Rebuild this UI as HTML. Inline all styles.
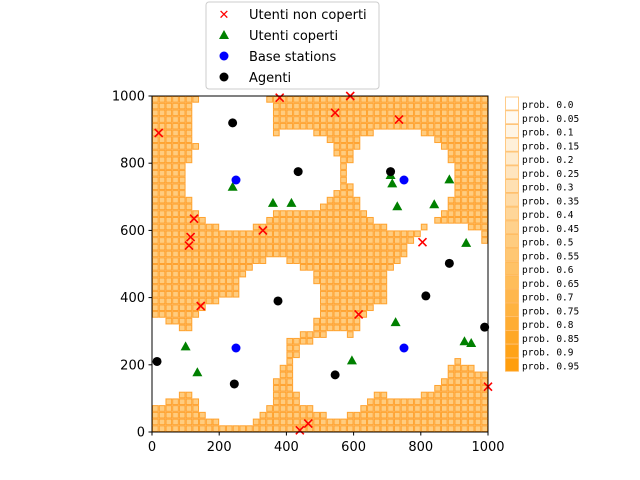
<!DOCTYPE html>
<html><head><meta charset="utf-8">
<style>
html,body{margin:0;padding:0;background:#fff;}
svg{display:block;font-family:"DejaVu Sans","Liberation Sans",sans-serif;}
</style></head>
<body>
<svg id="chart" width="640" height="480" viewBox="0 0 640 480">
<g id="cells"></g>
<g id="marks"></g>
<rect x="152" y="96" width="336" height="336" fill="none" stroke="#000" stroke-width="1"/>
<g id="axes"></g>
<g id="problegend"></g>
<g>
<rect x="206" y="2" width="173" height="87" rx="3" fill="#fff" stroke="#ccc"/>
<text x="224" y="19" fill="#f00" font-size="13" text-anchor="middle">✕</text>
<text x="249" y="19" font-size="13">Utenti non coperti</text>
<polygon points="224,30 229,39 219,39" fill="green"/>
<text x="249" y="40" font-size="13">Utenti coperti</text>
<circle cx="224" cy="56" r="4.5" fill="blue"/>
<text x="249" y="61" font-size="13">Base stations</text>
<circle cx="224" cy="77" r="4.5" fill="#000"/>
<text x="249" y="82" font-size="13">Agenti</text>
</g>
</svg>
<script>
const ticks = [0,200,400,600,800,1000];
const uncoveredX = [20,125,115,110,145,330,380,545,590,735,805,615,440,465,1000];
const uncoveredY = [890,635,580,555,375,600,995,950,1000,930,565,350,5,25,135];
const coveredX = [240,360,415,710,715,730,840,885,935,100,135,595,725,930,950];
const coveredY = [730,682,682,765,740,672,678,752,563,255,178,213,327,270,265];
const baseX = [250,750,250,750];
const baseY = [750,750,250,250];
const agentX = [240,435,710,375,815,885,990,15,245,545];
const agentY = [920,775,775,390,405,502,312,210,143,170];
const probLabels = ["0.0","0.05","0.1","0.15","0.2","0.25","0.3","0.35","0.4","0.45","0.5","0.55","0.6","0.65","0.7","0.75","0.8","0.85","0.9","0.95"];
const probAlpha = [0,0.05,0.1,0.15,0.2,0.25,0.3,0.35,0.4,0.45,0.5,0.55,0.6,0.65,0.7,0.75,0.8,0.85,0.9,0.95];

const NS="http://www.w3.org/2000/svg";
const X0=152,Y0=432,S=336/1000;
function sx(v){return X0+v*S;}
function sy(v){return Y0-v*S;}
function mk(tag,attrs,parent){const e=document.createElementNS(NS,tag);for(const k in attrs)e.setAttribute(k,attrs[k]);parent.appendChild(e);return e;}

// grid
const cells=document.getElementById('cells');
const CS=20,RB=150,RA=125;
for(let i=0;i<50;i++){for(let j=0;j<50;j++){
  const cx=i*CS+CS/2, cy=j*CS+CS/2;
  let cov=false;
  for(let k=0;k<baseX.length;k++){if(Math.hypot(cx-baseX[k],cy-baseY[k])<RB)cov=true;}
  for(let k=0;k<agentX.length;k++){if(Math.hypot(cx-agentX[k],cy-agentY[k])<RA)cov=true;}
  if(cov)continue;
  const r=mk('rect',{x:sx(i*CS)+0.5,y:sy((j+1)*CS)+0.5,width:CS*S-1,height:CS*S-1,fill:'rgba(255,153,0,0.5)',stroke:'rgba(255,140,0,0.75)','stroke-width':1},cells);
  
  
}}

// axes
const ax=document.getElementById('axes');
ticks.forEach(t=>{
  const l1=mk('line',{x1:sx(t),x2:sx(t),y1:432,y2:435.5,stroke:'#000'},ax);
  
  
  const t1=mk('text',{x:sx(t),y:451,'font-size':13,'text-anchor':'middle'},ax);t1.textContent=t;
  
  
  const l2=mk('line',{x1:148.5,x2:152,y1:sy(t),y2:sy(t),stroke:'#000'},ax);
  
  
  const t2=mk('text',{x:145,y:sy(t)+4.5,'font-size':13,'text-anchor':'end'},ax);t2.textContent=t;
  
  
});

// marks
const m=document.getElementById('marks');
coveredX.forEach((x,i)=>{const px=sx(x),py=sy(coveredY[i]);
  const p=mk('polygon',{points:`${px},${py-5} ${px+5},${py+4} ${px-5},${py+4}`,fill:'green'},m);
  
  });
baseX.forEach((x,i)=>{const c=mk('circle',{cx:sx(x),cy:sy(baseY[i]),r:4.5,fill:'blue'},m);
  
  });
agentX.forEach((x,i)=>{const c=mk('circle',{cx:sx(x),cy:sy(agentY[i]),r:4.5,fill:'#000'},m);
  
  });
uncoveredX.forEach((x,i)=>{const px=sx(x),py=sy(uncoveredY[i]);
  const p=mk('path',{d:`M${px-4},${py-4}L${px+4},${py+4}M${px-4},${py+4}L${px+4},${py-4}`,stroke:'red','stroke-width':1.6},m);
  
  });

// probability legend
const pl=document.getElementById('problegend');
probLabels.forEach((lab,i)=>{const y=97+i*13.75;
  const r=mk('rect',{x:505.5,y:y,width:13,height:13,fill:i==0?'#fff':`rgba(255,153,0,${probAlpha[i]})`,stroke:'rgba(255,170,60,0.6)','stroke-width':1},pl);
  
  
  const t=mk('text',{x:522,y:y+11,'font-size':9.5,'font-family':'DejaVu Sans Mono, Liberation Mono, monospace'},pl);t.textContent='prob. '+lab;
  
  
});
</script>
</body></html>
